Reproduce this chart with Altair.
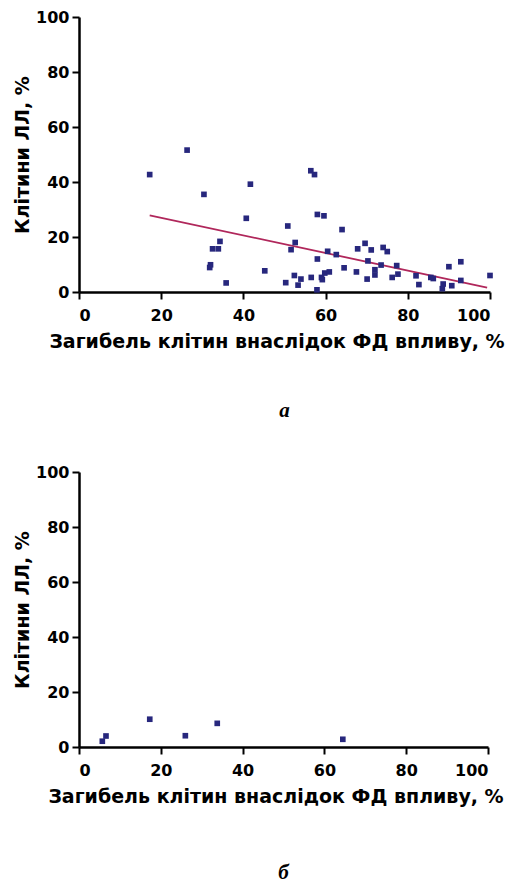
import altair as alt
import pandas as pd

# Panel a: cell death due to PD effect (%), LL cells (%)
a_x = [17.2, 26.3, 30.4, 41.7, 40.7, 50.8, 34.3, 32.5, 33.9, 32.0, 31.8, 35.8, 45.2, 51.6, 52.6,
       52.4, 50.3, 53.3, 56.4, 57.3, 58.0, 59.6, 64.0, 60.5, 62.6, 58.0, 54.0, 56.5, 57.9, 59.0,
       59.2, 59.8, 60.9, 64.5, 67.8, 69.6, 71.1, 70.3, 67.5, 70.1, 72.0, 72.0, 73.5, 74.0, 75.0,
       77.3, 76.2, 77.6, 82.0, 82.7, 85.6, 86.2, 88.6, 88.4, 90.0, 90.7, 92.9, 92.9, 100.0]
a_y = [42.7, 51.6, 35.5, 39.2, 26.8, 24.0, 18.4, 15.7, 15.7, 9.9, 8.9, 3.3, 7.7, 15.4, 18.0,
       6.0, 3.4, 2.5, 44.1, 42.7, 28.2, 27.7, 22.7, 14.8, 13.6, 12.0, 4.7, 5.3, 0.8, 5.3,
       4.5, 6.9, 7.3, 8.8, 15.7, 17.7, 15.3, 11.3, 7.3, 4.7, 8.1, 6.2, 9.8, 16.2, 14.7,
       9.6, 5.3, 6.5, 5.9, 2.7, 5.3, 4.9, 2.9, 1.2, 9.2, 2.3, 11.0, 4.2, 6.0]
# regression line end points
fit_x = [17.2, 99.3]
fit_y = [27.9, 1.6]

# Panel б
b_x = [5.7, 6.6, 17.3, 26.0, 33.8, 64.5]
b_y = [2.1, 4.0, 10.1, 4.1, 8.6, 2.8]

ticks = [0, 20, 40, 60, 80, 100]
x_title = "Загибель клітин внаслідок ФД впливу, %"
y_title = "Клітини ЛЛ, %"

PT = "#27277d"
LN = "#b0275b"

df_a = pd.DataFrame({"x": a_x, "y": a_y})
df_fit = pd.DataFrame({"x": fit_x, "y": fit_y})
df_b = pd.DataFrame({"x": b_x, "y": b_y})

xs = alt.Scale(domain=[0, 100], nice=False, zero=True)
ys = alt.Scale(domain=[0, 100], nice=False, zero=True)
yax = alt.Axis(values=ticks, title=y_title, titlePadding=3)


def panel(df, w, label, offset, fit=None):
    xax = alt.Axis(values=ticks, title=x_title, titlePadding=9, titleX=w / 2 - 8)
    pts = alt.Chart(df).mark_square(size=32, color=PT, opacity=1).encode(
        x=alt.X("x:Q", scale=xs, axis=xax),
        y=alt.Y("y:Q", scale=ys, axis=yax),
    )
    layers = [pts]
    if fit is not None:
        ln = alt.Chart(fit).mark_line(color=LN, strokeWidth=1.8).encode(
            x=alt.X("x:Q", scale=xs), y=alt.Y("y:Q", scale=ys)
        )
        layers = [ln, pts]
    return alt.layer(*layers).properties(
        width=w, height=275,
        title=alt.TitleParams(label, orient="bottom", offset=offset, font="Liberation Serif",
                              fontSize=21, fontStyle="italic", fontWeight="bold", color="black"),
    )


top = panel(df_a, 411, "a", 49, df_fit)
bot = panel(df_b, 409, "б", 56)

chart = alt.vconcat(top, bot, spacing=43).properties(
    padding={"left": 5, "top": 1, "right": 0, "bottom": 0}
).configure_view(stroke=None).configure_axis(
    grid=False,
    domainColor="black", domainWidth=2.5,
    tickColor="black", tickWidth=2, tickSize=7,
    labelFont="DejaVu Sans", labelFontSize=16, labelFontWeight="bold", labelColor="black",
    labelPadding=3,
    titleFont="DejaVu Sans", titleFontSize=19, titleFontWeight="bold", titleColor="black",
).configure_axisX(labelPadding=8)

chart.save("out.html", embed_options={"renderer": "svg", "actions": False})
